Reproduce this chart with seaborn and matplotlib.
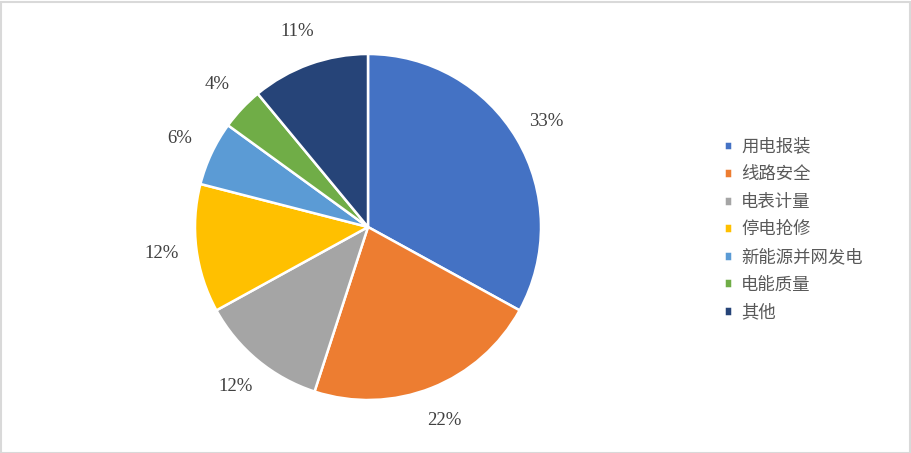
import matplotlib
matplotlib.use('Agg')
import matplotlib.pyplot as plt
import seaborn as sns
from matplotlib.patches import Rectangle

categories = ['用电报装', '线路安全', '电表计量', '停电抢修', '新能源并网发电', '电能质量', '其他']
shares = [33, 22, 12, 12, 6, 4, 11]
colors = ['#4472C4', '#ED7D31', '#A5A5A5', '#FFC000', '#5B9BD5', '#70AD47', '#264478']

sns.set_theme(style='white')
plt.rcParams['font.family'] = ['Noto Sans CJK SC', 'DejaVu Sans']

W, H = 911, 453
fig = plt.figure(figsize=(W / 100, H / 100), dpi=100)
fig.patch.set_facecolor('white')

# pie centre at (368, 227) px, radius ~173 px
cx, cy, r = 368, 227, 173
half = 200
ax = fig.add_axes([(cx - half) / W, (H - cy - half) / H, 2 * half / W, 2 * half / H])
wedges, texts, autotexts = ax.pie(
    shares, colors=sns.color_palette(colors), startangle=90, counterclock=False,
    radius=1.0, autopct='%d%%', pctdistance=1.2,
    wedgeprops=dict(edgecolor='white', linewidth=1.8),
    textprops=dict(color='#404040', fontsize=13.5, family='Liberation Serif'))
lim = half / r
ax.set_xlim(-lim, lim)
ax.set_ylim(-lim, lim)
ax.set_aspect('equal')
ax.axis('off')

leg = fig.legend(wedges, categories, loc='upper left',
                 bbox_to_anchor=(708 / W, 1 - 122 / H), frameon=False,
                 handlelength=0.5, handleheight=0.5, handletextpad=0.5,
                 labelspacing=0.55, prop=dict(size=12.5))
for t in leg.get_texts():
    t.set_color('#595959')

fig.patches.append(Rectangle((0.5 / W, 0.5 / H), 1 - 2 / W, 1 - 2 / H,
                             transform=fig.transFigure, fill=False,
                             edgecolor='#D9D9D9', linewidth=1.5))

fig.savefig('out.png', dpi=100)
